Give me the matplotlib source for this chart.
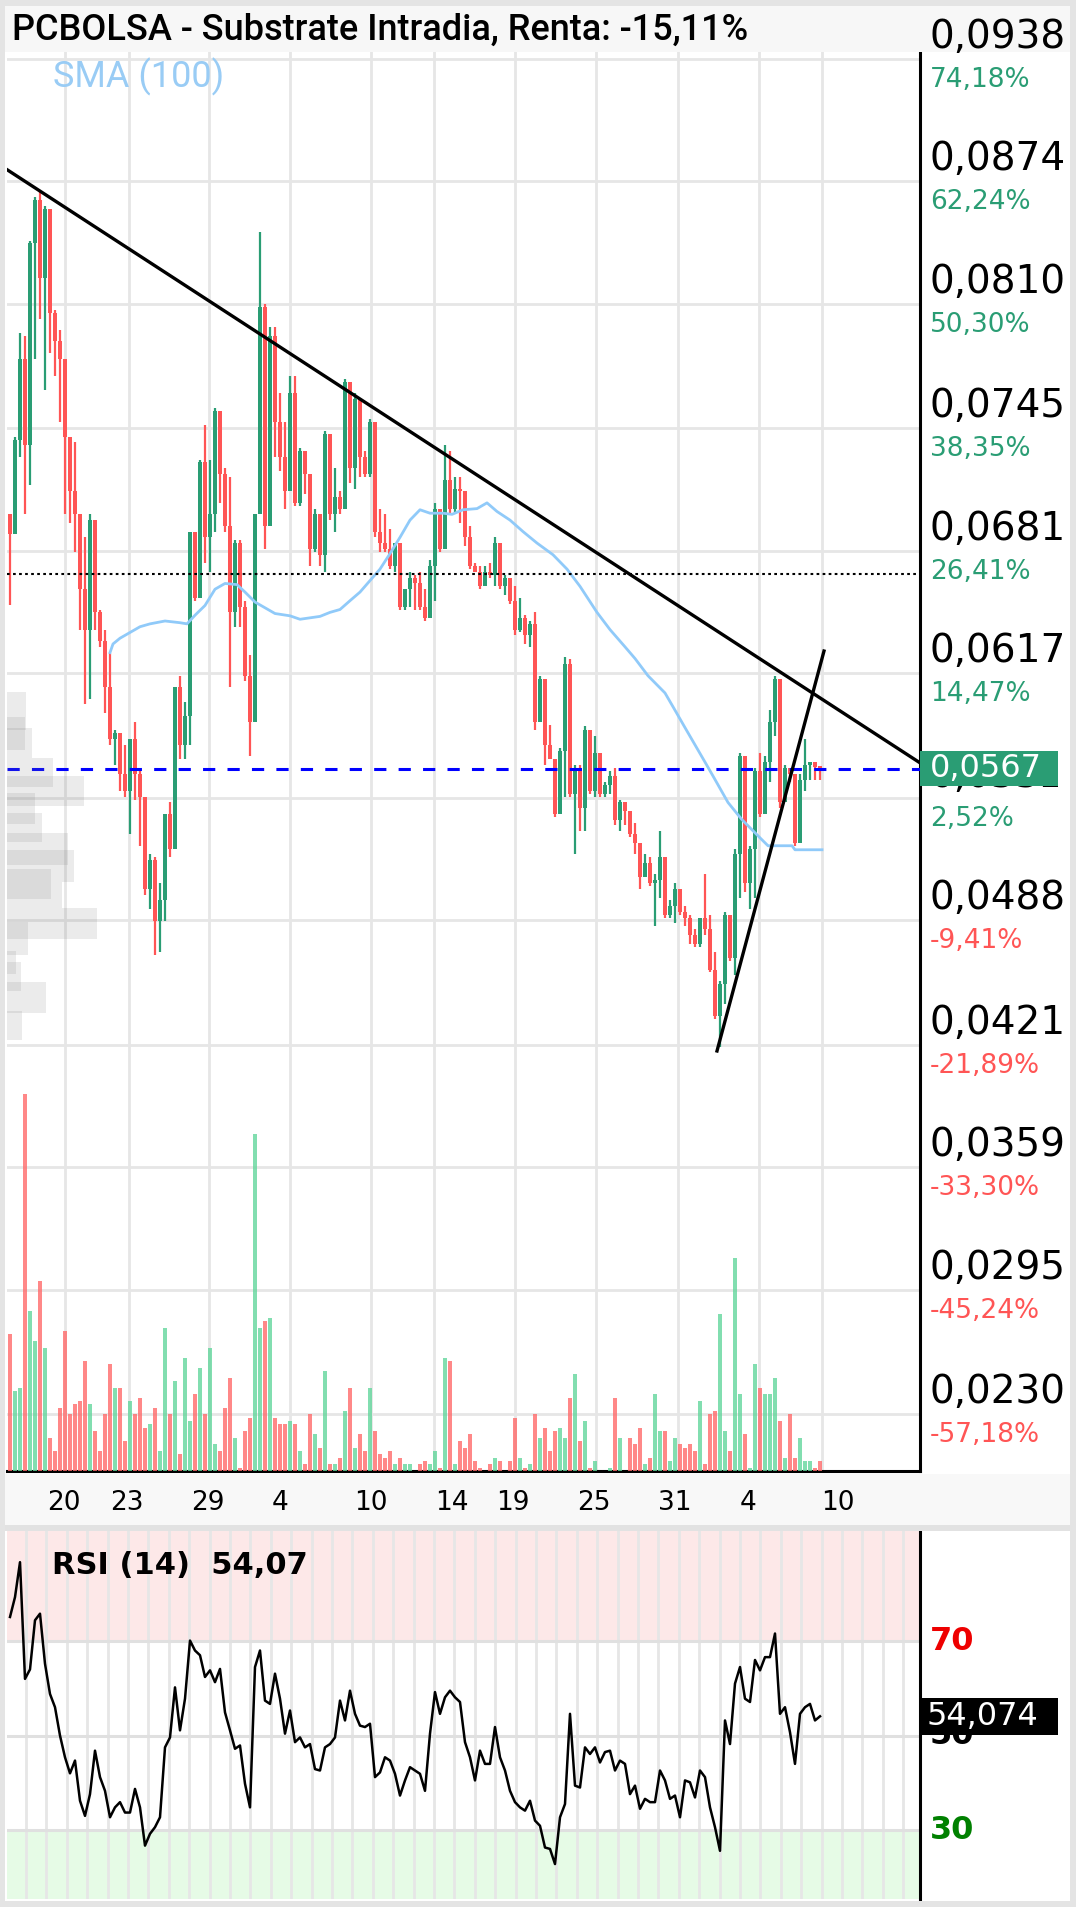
import numpy as np
import matplotlib

matplotlib.use("Agg")
import matplotlib.pyplot as plt
from matplotlib.patches import Rectangle
from matplotlib.transforms import Bbox

# %%
# Data (one candle per 5 px column)
# ------------------------------------------------------
first_open = 0.07000
close = [
    0.06895, 0.07391, 0.07813, 0.07361, 0.08415, 0.08640, 0.08234, 0.08595, 0.08054, 0.07903,
    0.07813, 0.07406, 0.07120, 0.07000, 0.06609, 0.06398, 0.06970, 0.06488, 0.06338, 0.06097,
    0.05826, 0.05856, 0.05646, 0.05555, 0.05826, 0.05646, 0.05525, 0.05044, 0.05194, 0.04878,
    0.04983, 0.05435, 0.05254, 0.06097, 0.05796, 0.05946, 0.06910, 0.06564, 0.07271, 0.06880,
    0.07000, 0.07542, 0.07211, 0.06940, 0.06488, 0.06850, 0.06518, 0.06157, 0.05916, 0.07000,
    0.08084, 0.06940, 0.07933, 0.07482, 0.07301, 0.07120, 0.07632, 0.07060, 0.07331, 0.07211,
    0.06819, 0.07000, 0.06789, 0.07421, 0.07000, 0.07090, 0.07030, 0.07692, 0.07241, 0.07602,
    0.07301, 0.07211, 0.07482, 0.06910, 0.06850, 0.06819, 0.06729, 0.06850, 0.06518, 0.06609,
    0.06669, 0.06639, 0.06518, 0.06458, 0.06729, 0.07030, 0.06819, 0.07181, 0.07030, 0.07135,
    0.07120, 0.06880, 0.06729, 0.06699, 0.06624, 0.06699, 0.06684, 0.06850, 0.06624, 0.06669,
    0.06549, 0.06398, 0.06458, 0.06368, 0.06428, 0.05916, 0.06142, 0.05796, 0.05721, 0.05435,
    0.05766, 0.06217, 0.05540, 0.05676, 0.05465, 0.05871, 0.05555, 0.05751, 0.05540, 0.05585,
    0.05631, 0.05405, 0.05495, 0.05450, 0.05330, 0.05284, 0.05104, 0.05179, 0.05074, 0.05089,
    0.05209, 0.04908, 0.04953, 0.05044, 0.04923, 0.04893, 0.04803, 0.04757, 0.04893, 0.04833,
    0.04622, 0.04381, 0.04547, 0.04908, 0.04682, 0.05224, 0.05736, 0.05074, 0.05254, 0.05661,
    0.05435, 0.05706, 0.05916, 0.06142, 0.05495, 0.05676, 0.05646, 0.05284, 0.05615, 0.05691,
    0.05706, 0.05682, 0.05676,
]
high = [
    0.07000, 0.07406, 0.07948, 0.07933, 0.08430, 0.08656, 0.08686, 0.08610, 0.08595, 0.08069,
    0.07963, 0.07813, 0.07406, 0.07376, 0.07000, 0.06880, 0.07000, 0.06955, 0.06503, 0.06398,
    0.06278, 0.05871, 0.05856, 0.05796, 0.05826, 0.05916, 0.05676, 0.05269, 0.05224, 0.05209,
    0.05074, 0.05435, 0.05495, 0.06097, 0.06157, 0.06022, 0.06910, 0.06895, 0.07286, 0.07467,
    0.07286, 0.07557, 0.07391, 0.07241, 0.07196, 0.06865, 0.06865, 0.06549, 0.06263, 0.07000,
    0.08475, 0.08099, 0.07978, 0.07978, 0.07632, 0.07482, 0.07722, 0.07722, 0.07346, 0.07331,
    0.07211, 0.07030, 0.06910, 0.07436, 0.07421, 0.07241, 0.07120, 0.07707, 0.07512, 0.07632,
    0.07436, 0.07331, 0.07497, 0.07346, 0.07030, 0.07000, 0.06925, 0.06850, 0.06699, 0.06609,
    0.06699, 0.06684, 0.06699, 0.06609, 0.06759, 0.07060, 0.07000, 0.07361, 0.07331, 0.07196,
    0.07196, 0.07120, 0.06940, 0.06744, 0.06729, 0.06729, 0.06744, 0.06880, 0.06850, 0.06684,
    0.06669, 0.06624, 0.06564, 0.06473, 0.06443, 0.06488, 0.06157, 0.06112, 0.05901, 0.05676,
    0.05781, 0.06254, 0.06247, 0.05691, 0.05691, 0.05892, 0.05841, 0.05841, 0.05676, 0.05600,
    0.05661, 0.05676, 0.05510, 0.05465, 0.05450, 0.05390, 0.05269, 0.05224, 0.05209, 0.05119,
    0.05345, 0.05209, 0.04983, 0.05074, 0.05013, 0.04953, 0.04908, 0.04833, 0.04893, 0.05119,
    0.04908, 0.04712, 0.04562, 0.04923, 0.04878, 0.05254, 0.05751, 0.05525, 0.05269, 0.05676,
    0.05751, 0.05736, 0.05977, 0.06157, 0.06142, 0.05691, 0.05676, 0.05631, 0.05646, 0.05826,
    0.05706, 0.05706, 0.05682,
]
low = [
    0.06528, 0.07000, 0.07301, 0.07000, 0.07151, 0.07813, 0.08023, 0.07647, 0.07843, 0.07722,
    0.07482, 0.07000, 0.06955, 0.06804, 0.06398, 0.06007, 0.06037, 0.06398, 0.06308, 0.05962,
    0.05796, 0.05691, 0.05555, 0.05525, 0.05330, 0.05510, 0.05269, 0.05013, 0.04938, 0.04697,
    0.04712, 0.04878, 0.05209, 0.05390, 0.05721, 0.05721, 0.05796, 0.06549, 0.06850, 0.06744,
    0.06699, 0.06910, 0.07060, 0.06910, 0.06097, 0.06413, 0.06413, 0.06127, 0.05736, 0.05916,
    0.07000, 0.06819, 0.06940, 0.07301, 0.07226, 0.07030, 0.07120, 0.07045, 0.07045, 0.07105,
    0.06729, 0.06804, 0.06729, 0.06699, 0.06970, 0.06910, 0.07000, 0.07166, 0.07166, 0.07135,
    0.07196, 0.07196, 0.07196, 0.06880, 0.06804, 0.06804, 0.06714, 0.06699, 0.06503, 0.06503,
    0.06518, 0.06503, 0.06503, 0.06443, 0.06549, 0.06549, 0.06804, 0.06850, 0.07000, 0.07000,
    0.06955, 0.06834, 0.06714, 0.06699, 0.06609, 0.06669, 0.06669, 0.06624, 0.06609, 0.06579,
    0.06534, 0.06368, 0.06383, 0.06323, 0.06308, 0.05871, 0.06007, 0.05691, 0.05721, 0.05420,
    0.05450, 0.05525, 0.05525, 0.05224, 0.05345, 0.05345, 0.05540, 0.05525, 0.05525, 0.05525,
    0.05540, 0.05375, 0.05345, 0.05375, 0.05314, 0.05224, 0.05044, 0.05119, 0.05059, 0.04848,
    0.04998, 0.04893, 0.04893, 0.04863, 0.04908, 0.04848, 0.04757, 0.04742, 0.04742, 0.04803,
    0.04607, 0.04366, 0.04216, 0.04442, 0.04667, 0.04592, 0.04998, 0.05029, 0.04938, 0.04998,
    0.05420, 0.05450, 0.05600, 0.05841, 0.05465, 0.05495, 0.05600, 0.05269, 0.05314, 0.05555,
    0.05615, 0.05615, 0.05615,
]
volume = [
    41, 24, 25, 113, 48, 39, 57, 37, 10, 6, 19, 42, 17, 20, 21, 33, 20, 12, 6, 17,
    32, 25, 25, 9, 21, 17, 22, 13, 14, 19, 6, 43, 17, 27, 5, 34, 15, 23, 31, 17,
    37, 8, 6, 19, 28, 10, 1, 12, 16, 101, 43, 45, 46, 16, 14, 14, 15, 14, 6, 2,
    17, 11, 7, 30, 2, 2, 4, 18, 25, 7, 11, 6, 25, 12, 5, 4, 6, 2, 4, 2,
    2, 0, 2, 3, 2, 6, 1, 34, 33, 2, 9, 7, 11, 3, 1, 0, 2, 4, 3, 0,
    3, 16, 4, 1, 2, 17, 10, 13, 6, 12, 13, 10, 22, 29, 9, 15, 1, 3, 0, 0,
    1, 22, 10, 0, 10, 8, 13, 2, 4, 23, 12, 12, 3, 10, 8, 7, 8, 6, 21, 2,
    17, 18, 47, 12, 6, 64, 23, 11, 1, 32, 25, 23, 23, 28, 15, 4, 17, 4, 10, 3,
    3, 1, 3,
]
rsi = [
    75.1, 79.3, 86.7, 62.0, 64.0, 74.4, 75.8, 65.2, 58.8, 56.0,
    50.0, 45.4, 42.0, 44.7, 36.2, 33.0, 37.6, 46.8, 41.2, 38.3,
    32.7, 34.8, 35.9, 33.7, 33.7, 38.7, 34.8, 26.7, 29.2, 30.6,
    32.7, 47.5, 49.6, 60.2, 51.1, 57.8, 70.1, 68.0, 67.0, 62.4,
    63.8, 61.3, 64.1, 54.9, 51.1, 47.2, 47.9, 39.8, 34.8, 64.5,
    68.0, 57.4, 56.7, 63.1, 57.8, 50.4, 55.3, 48.6, 49.6, 47.5,
    48.2, 42.9, 42.6, 47.5, 48.2, 49.6, 57.4, 53.2, 59.5, 54.6,
    52.1, 51.8, 52.5, 41.2, 42.2, 45.4, 44.7, 41.9, 37.3, 40.5,
    43.3, 42.6, 41.9, 38.3, 50.4, 59.2, 54.6, 58.1, 59.5, 58.1,
    57.1, 48.6, 45.4, 40.5, 46.8, 44.0, 44.0, 51.8, 45.4, 42.6,
    38.3, 35.9, 34.8, 34.1, 36.2, 32.0, 30.9, 26.3, 26.0, 22.8,
    32.7, 35.5, 54.6, 39.4, 39.0, 47.5, 46.1, 47.5, 44.3, 46.5,
    46.8, 42.6, 44.7, 44.0, 37.6, 39.4, 34.5, 36.6, 35.9, 35.9,
    42.6, 40.5, 36.6, 37.3, 32.7, 40.5, 40.1, 36.9, 42.6, 41.2,
    34.8, 30.6, 25.6, 53.2, 48.2, 61.0, 64.5, 57.8, 57.1, 66.0,
    63.8, 66.6, 66.6, 71.6, 54.6, 56.0, 50.7, 44.0, 54.6, 56.0,
    56.7, 53.2, 54.07,
]

# SMA(100) vertices (candle index, price)
sma_idx = [20, 20.6, 22, 24, 26, 28, 31, 34, 35.4, 37, 39, 41, 43, 45.4, 47, 49, 51, 53, 56, 58,
           62, 64, 66, 68, 70, 72, 74, 76, 78, 80, 82, 84, 86.6, 88.4, 90.6, 93.4, 95.4, 97.4, 100,
           102.6, 105.4, 108.6, 111.4, 114, 117.4, 120, 123, 125, 127.6, 131, 133, 135, 137, 139,
           141, 143.6, 146.4, 150.4, 151.6, 156.4, 157, 162.4]
sma_val = [0.06278, 0.06323, 0.06353, 0.06383, 0.06413, 0.06428, 0.06443, 0.06434, 0.06428, 0.06473,
           0.06524, 0.06609, 0.06639, 0.06633, 0.06594, 0.06542, 0.06512, 0.06482, 0.06470, 0.06452,
           0.06467, 0.06488, 0.06503, 0.06549, 0.06594, 0.06654, 0.06714, 0.06795, 0.06880, 0.06970,
           0.07024, 0.07006, 0.07006, 0.07000, 0.07024, 0.07030, 0.07060, 0.07015, 0.06970, 0.06910,
           0.06850, 0.06789, 0.06714, 0.06624, 0.06488, 0.06398, 0.06308, 0.06247, 0.06157, 0.06067,
           0.05977, 0.05886, 0.05796, 0.05706, 0.05615, 0.05495, 0.05405, 0.05300, 0.05269, 0.05269,
           0.05248, 0.05248]

# volume profile on the left edge (price band, relative size)
prof_lo = [0.05874, 0.05769, 0.05728, 0.05576, 0.05477, 0.05383, 0.05289, 0.05169, 0.05080,
           0.04991, 0.04944, 0.04782, 0.04699, 0.04599, 0.04511, 0.04396, 0.04255]
prof_hi = [0.06072, 0.05942, 0.05884, 0.05728, 0.05634, 0.05545, 0.05440, 0.05336, 0.05247,
           0.05148, 0.05080, 0.04944, 0.04871, 0.04720, 0.04662, 0.04558, 0.04406]
prof_size = [21, 20, 28, 51, 86, 31, 39, 68, 74, 49, 61, 100, 23, 10, 16, 43, 17]

# drawn lines: (candle index, price)
down_trend = ([-0.8, 182.0], [0.08804, 0.05702])
up_trend = ([141.4, 162.8], [0.04197, 0.06286])
dotted_level = 0.06688
last_price = 0.0567
last_rsi = 54.07

price_ticks = [0.0938, 0.0874, 0.0810, 0.0745, 0.0681, 0.0617, 0.0552, 0.0488, 0.0423, 0.0359, 0.0295, 0.0230]
price_labels = ["0,0938", "0,0874", "0,0810", "0,0745", "0,0681", "0,0617", "0,0552", "0,0488",
                "0,0421", "0,0359", "0,0295", "0,0230"]
pct_labels = ["74,18%", "62,24%", "50,30%", "38,35%", "26,41%", "14,47%", "2,52%", "-9,41%",
              "-21,89%", "-33,30%", "-45,24%", "-57,18%"]
date_pos = [10.8, 23.4, 39.6, 54.0, 72.2, 88.4, 100.6, 116.8, 133.0, 147.6, 165.6]
date_labels = ["20", "23", "29", "4", "10", "14", "19", "25", "31", "4", "10"]
week_grid = [11.0, 23.8, 39.8, 56.0, 72.2, 84.8, 101.0, 117.2, 133.6, 149.8, 162.4]

# %%
# Layout (pixels, origin top-left)
# --------------------------------
W, H = 1076, 1907
GREEN = "#2a9d74"
RED = "#ff5555"
GRID = "#e6e6e6"
AX_L, AX_R = 7, 920
MAIN_T, MAIN_B = 48, 1471
RSI_T, RSI_B = 1531, 1899
PRICE_TOP, PRICE_BOT = 0.09436, 0.02003
PX_PER_PRICE = (MAIN_B - MAIN_T) / (PRICE_TOP - PRICE_BOT)
RSI_LIM = (15.4, 93.3)
BOX_R = 1058  # right edge of the last-value boxes


def px2i(px):
    return (px - 10) / 5.0


def price2py(v):
    return MAIN_T + (PRICE_TOP - v) * PX_PER_PRICE


def fig_rect(x0, y0, x1, y1):
    return [x0 / W, 1 - y1 / H, (x1 - x0) / W, (y1 - y0) / H]


def ftext(x, y, s, **kw):
    return fig.text(x / W, 1 - y / H, s, **kw)


def band(x0, y0, x1, y1, color, z=3):
    fig.add_artist(Rectangle((x0 / W, 1 - y1 / H), (x1 - x0) / W, (y1 - y0) / H,
                             transform=fig.transFigure, facecolor=color, edgecolor="none", zorder=z))


plt.rcParams["font.family"] = ["DejaVu Sans"]
fig = plt.figure(figsize=(W / 100, H / 100), dpi=100)
fig.patch.set_facecolor("white")

ax = fig.add_axes(fig_rect(AX_L, MAIN_T, AX_R, MAIN_B))
ax.set_xlim(px2i(AX_L), px2i(AX_R))
ax.set_ylim(PRICE_BOT, PRICE_TOP)
ax.set_xticks(week_grid)
ax.set_yticks(price_ticks)
ax.tick_params(length=0, labelbottom=False, labelleft=False)
ax.grid(True, color=GRID, lw=2.0)
ax.set_axisbelow(True)
for s in ("top", "left"):
    ax.spines[s].set_visible(False)
for s in ("right", "bottom"):
    ax.spines[s].set_color("black")
    ax.spines[s].set_linewidth(2.2)

# candles
n = len(close)
idx = np.arange(n)
c = np.array(close)
o = np.concatenate([[first_open], c[:-1]])
hi = np.maximum(np.array(high), np.maximum(o, c))
lo = np.minimum(np.array(low), np.minimum(o, c))
up = c >= o
cols = np.where(up, GREEN, RED)
ax.vlines(idx, lo, hi, colors=cols, lw=1.6, zorder=3)
ax.bar(idx, np.maximum(np.abs(c - o), 0.0001), bottom=np.minimum(o, c), width=0.9,
       color=cols, linewidth=0, zorder=3)

# sma + drawn lines
ax.plot(sma_idx, sma_val, color="#90caf9", lw=2.0, zorder=4)
ax.plot(*down_trend, color="black", lw=2.4, zorder=5)
ax.plot(*up_trend, color="black", lw=2.4, zorder=5)
ax.axhline(dotted_level, color="black", lw=1.5, ls=(0, (1.3, 1.6)), zorder=4)
ax.axhline(last_price, color="#0000ff", lw=2.2, ls=(0, (4, 4)), zorder=4)

# volume
vax = ax.twinx()
vax.set_ylim(0, (MAIN_B - MAIN_T) / 3.333)
vcols = np.where(up, "#63d69c", "#ff6b6b")
vax.bar(idx, volume, width=0.92, color=vcols, alpha=0.8, linewidth=0)
vax.axis("off")

# volume profile
pax = ax.twiny()
pax.set_xlim(0, (AX_R - AX_L) / 0.9)
pax.barh(prof_lo, prof_size, height=np.array(prof_hi) - np.array(prof_lo), align="edge",
         color="#7a7a7a", alpha=0.15, linewidth=0)
pax.axis("off")

# right price scale (figure texts so they sit above the title band)
for v, lab, pct in zip(price_ticks, price_labels, pct_labels):
    y = price2py(v)
    t = ftext(930, y - 22, lab, ha="left", va="center", fontsize=28, color="black", zorder=6)
    if abs(v - last_price) < 0.002:
        # this label sits under the last-price box
        t.set_clip_box(Bbox.from_extents(0, 0, BOX_R, H))
        t.set_clip_on(True)
    ftext(930, y + 21, pct, ha="left", va="center", fontsize=19,
          color=RED if pct.startswith("-") else GREEN, zorder=6)
yc = price2py(last_price)
band(AX_R, yc - 17.5, BOX_R, yc + 17.5, GREEN, z=7)
ftext(930, yc, "0,0567", ha="left", va="center", fontsize=23, color="white", zorder=8)

# date labels
xtr = ax.get_xaxis_transform()
for p, lab in zip(date_pos, date_labels):
    ax.annotate(lab, xy=(p, 0), xycoords=xtr, xytext=(0, -23), textcoords="offset points",
                ha="center", va="center", fontsize=19, color="black", annotation_clip=False)

# RSI panel
rax = fig.add_axes(fig_rect(AX_L, RSI_T, AX_R, RSI_B))
rax.set_xlim(px2i(AX_L), px2i(AX_R))
rax.set_ylim(*RSI_LIM)
rax.axhspan(70, RSI_LIM[1], color="#fde8e8", lw=0)
rax.axhspan(RSI_LIM[0], 30, color="#e6fbe6", lw=0)
for x in np.arange(26, 905, 20.4):
    rax.axvline(px2i(x), color=GRID, lw=2.0, zorder=1)
for v in (70, 50, 30):
    rax.axhline(v, color="#e0e0e0", lw=2.2, zorder=1)
rax.plot(idx, rsi, color="black", lw=1.8, zorder=3)
rax.set_xticks([])
rax.set_yticks([])
for s in ("top", "left", "bottom"):
    rax.spines[s].set_visible(False)
rax.spines["right"].set_linewidth(2.2)
rtr = rax.get_yaxis_transform()
for v, col in ((70, "#ee0000"), (50, "black"), (30, "#008000")):
    rax.annotate(str(v), xy=(1, v), xycoords=rtr, xytext=(7.2, 0), textcoords="offset points",
                 ha="left", va="center", fontsize=23, fontweight="bold", color=col,
                 annotation_clip=False)
rax.add_patch(Rectangle((1.0, last_rsi - 3.9), (BOX_R - AX_R) / (AX_R - AX_L), 7.8, transform=rtr,
                        facecolor="black", edgecolor="none", clip_on=False, zorder=10))
rax.annotate("54,074", xy=(1, last_rsi), xycoords=rtr, xytext=(5, 0), textcoords="offset points",
             ha="left", va="center", fontsize=23, color="white", zorder=11, annotation_clip=False)
rax.text(0.049, 0.905, "RSI (14)  54,07", transform=rax.transAxes, ha="left", va="center",
         fontsize=22, fontweight="bold", color="black")

# frame, title band, date band
band(0, 0, W, 6, "#e4e4e4")
band(0, 0, 5, H, "#e4e4e4")
band(W - 6, 0, W, H, "#e4e4e4")
band(0, H - 6, W, H, "#e4e4e4")
band(5, 6, W - 6, 52, "#f7f7f7")
band(5, 1474, W - 6, 1525, "#f8f8f8", z=-1)
band(5, 1525, W - 6, 1531, "#e2e2e2")

ftext(12, 30, "PCBOLSA - Substrate Intradia, Renta: -15,11%", ha="left", va="center",
      fontsize=26, family=["Roboto", "DejaVu Sans"], fontweight="medium", color="black", zorder=6)
ftext(53, 77, "SMA (100)", ha="left", va="center", fontsize=26,
      family=["Roboto", "DejaVu Sans"], color="#99ccf5", zorder=6)

fig.savefig("out.png", dpi=100)
